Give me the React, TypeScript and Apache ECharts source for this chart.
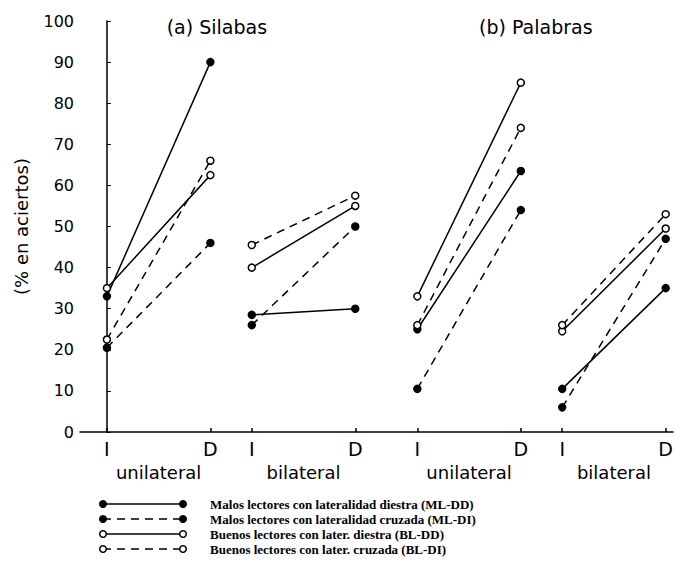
import React, { useEffect, useRef } from "react";
import * as echarts from "echarts";

// x positions of the I / D ticks (scale units)
const xPos = [0, 5, 7, 12, 15, 20, 22, 27];
const xTickLabels = ["I", "D", "I", "D", "I", "D", "I", "D"];
const groupLabels = ["unilateral", "bilateral", "unilateral", "bilateral"];
const panelTitles = ["(a) Silabas", "(b) Palabras"];
const yTicks = [0, 10, 20, 30, 40, 50, 60, 70, 80, 90, 100];

// values at I, D for each of the 4 groups
const mlDD = [33, 90, 28.5, 30, 25, 63.5, 10.5, 35];
const mlDI = [20.5, 46, 26, 50, 10.5, 54, 6, 47];
const blDD = [35, 62.5, 40, 55, 33, 85, 24.5, 49.5];
const blDI = [22.5, 66, 45.5, 57.5, 26, 74, 26, 53];

const seriesNames = [
  "Malos lectores con lateralidad diestra (ML-DD)",
  "Malos lectores con lateralidad cruzada (ML-DI)",
  "Buenos lectores con later. diestra (BL-DD)",
  "Buenos lectores con later. cruzada (BL-DI)",
];

const FONT = '"DejaVu Sans", sans-serif';

function buildData(vals: number[]) {
  const out: any[] = [];
  for (let g = 0; g < 4; g++) {
    out.push([xPos[2 * g], vals[2 * g]]);
    out.push([xPos[2 * g + 1], vals[2 * g + 1]]);
    if (g < 3) out.push([(xPos[2 * g + 1] + xPos[2 * g + 2]) / 2, "-"]);
  }
  return out;
}

export default function App() {
  const ref = useRef<HTMLDivElement>(null);
  useEffect(() => {
    document.body.style.margin = "0";
    const chart = echarts.init(ref.current!, null, { renderer: "svg" });
    const mids = [0, 1, 2, 3].map((g) => (xPos[2 * g] + xPos[2 * g + 1]) / 2);
    const styles = [
      { dashed: false, filled: true },
      { dashed: true, filled: true },
      { dashed: false, filled: false },
      { dashed: true, filled: false },
    ];
    const allVals = [mlDD, mlDI, blDD, blDI];
    const xMin = -1.3;
    const xMax = 27.35;
    const gridLeft = 80;
    const gridRight = 2;
    const plotW = 676 - gridLeft - gridRight;
    const toPx = (v: number) => gridLeft + ((v - xMin) / (xMax - xMin)) * plotW;

    const series = styles.map((s, i) => ({
      type: "line",
      name: seriesNames[i],
      data: buildData(allVals[i]),
      connectNulls: false,
      symbol: "circle",
      symbolSize: 7,
      lineStyle: { color: "#000", width: 1.5, type: s.dashed ? [8, 6] : "solid" },
      itemStyle: {
        color: s.filled ? "#000" : "#fff",
        borderColor: "#000",
        borderWidth: 1.5,
      },
      z: s.filled ? 3 : 4,
    }));

    const legendGraphics: any[] = [];
    const rowY = [504, 519, 534, 549];
    styles.forEach((s, i) => {
      const y = rowY[i];
      legendGraphics.push({
        type: "line",
        shape: { x1: 103, y1: y, x2: 183, y2: y },
        style: { stroke: "#000", lineWidth: 1.5, lineDash: s.dashed ? [8, 6] : null },
      });
      [103, 183].forEach((cx) =>
        legendGraphics.push({
          type: "circle",
          shape: { cx, cy: y, r: 3.3 },
          style: { fill: s.filled ? "#000" : "#fff", stroke: "#000", lineWidth: 1.5 },
          z: 10,
        })
      );
      legendGraphics.push({
        type: "text",
        x: 210,
        y,
        style: {
          text: seriesNames[i],
          font: 'bold 13px "Liberation Serif", serif',
          fill: "#000",
          textVerticalAlign: "middle",
        },
      });
    });

    const titleX = [toPx((xPos[0] + xPos[3]) / 2) - 14.5, toPx((xPos[4] + xPos[7]) / 2) - 6.5];
    panelTitles.forEach((t, i) => {
      legendGraphics.push({
        type: "text",
        x: titleX[i],
        y: 27,
        style: {
          text: t,
          font: `19px ${FONT}`,
          fill: "#000",
          textAlign: "center",
          textVerticalAlign: "middle",
        },
      });
    });

    chart.setOption({
      animation: false,
      backgroundColor: "#fff",
      grid: { left: gridLeft, right: gridRight, top: 21, bottom: 140, containLabel: false },
      xAxis: [
        {
          type: "value",
          min: xMin,
          max: xMax,
          position: "bottom",
          axisLine: { show: true, lineStyle: { color: "#000", width: 1.5 } },
          axisTick: { show: true, inside: true, length: 4, customValues: xPos, lineStyle: { color: "#000", width: 1.5 } },
          axisLabel: {
            customValues: xPos,
            formatter: (v: number) => {
              const idx = xPos.indexOf(v);
              return idx >= 0 ? xTickLabels[idx] : "";
            },
            color: "#000",
            fontFamily: FONT,
            fontSize: 19,
            margin: 7,
          },
          splitLine: { show: false },
        },
        {
          type: "value",
          min: xMin,
          max: xMax,
          position: "bottom",
          axisLine: { show: false },
          axisTick: { show: false },
          axisLabel: {
            customValues: mids,
            formatter: (v: number) => {
              const idx = mids.indexOf(v);
              return idx >= 0 ? groupLabels[idx] : "";
            },
            color: "#000",
            fontFamily: FONT,
            fontSize: 18,
            margin: 31,
          },
          splitLine: { show: false },
        },
      ],
      yAxis: {
        type: "value",
        min: 0,
        max: 100,
        interval: 10,
        name: "(% en aciertos)",
        nameLocation: "middle",
        nameGap: 50,
        nameTextStyle: { color: "#000", fontFamily: FONT, fontSize: 18 },
        axisLine: { show: true, lineStyle: { color: "#000", width: 1.5 } },
        axisTick: { show: true, inside: true, length: 4, lineStyle: { color: "#000" } },
        axisLabel: { color: "#000", fontFamily: FONT, fontSize: 16, margin: 6 },
        splitLine: { show: false },
        data: yTicks,
      },
      graphic: legendGraphics,
      series,
    });
    return () => chart.dispose();
  }, []);
  return <div ref={ref} style={{ width: 676, height: 572 }} />;
}
